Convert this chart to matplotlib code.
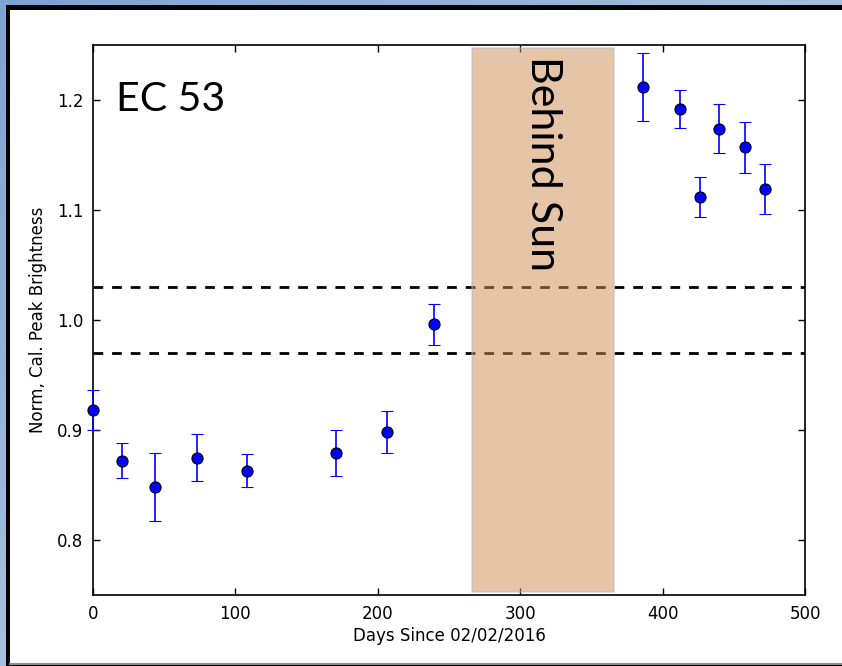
import numpy as np
import matplotlib.pyplot as plt
from matplotlib.patches import Rectangle

# datos
dias = [0, 20.5, 43.5, 73, 108, 170.5, 206.5, 239.5, 386, 412, 426, 439.5, 458, 472]
brillo = [0.918, 0.872, 0.848, 0.875, 0.863, 0.879, 0.898, 0.996,
          1.212, 1.192, 1.112, 1.174, 1.157, 1.119]
error = [0.018, 0.016, 0.031, 0.021, 0.015, 0.021, 0.019, 0.019,
         0.031, 0.017, 0.018, 0.022, 0.023, 0.023]
limites = [1.03, 0.97]
sol_ini, sol_fin = 266, 366

W, H = 842, 666
fig = plt.figure(figsize=(W / 100, H / 100), dpi=100)

# fondo de la diapositiva: degradado azul, marco negro, fondo blanco
bg = fig.add_axes([0, 0, 1, 1])
bg.set_axis_off()
gx = np.linspace(0, 1, 200)
gy = np.linspace(0, 1, 200)
GX, GY = np.meshgrid(gx, gy)
c0 = np.array([0.49, 0.64, 0.83])
c1 = np.array([0.80, 0.86, 0.93])
t = np.clip(0.5 * GX + 0.5 * GY, 0, 1)[..., None]
img = c0 * (1 - t) + c1 * t
bg.imshow(img, extent=[0, W, H, 0], aspect='auto')
bg.set_xlim(0, W)
bg.set_ylim(H, 0)
bg.add_patch(Rectangle((6, 5), W, H, facecolor='black', edgecolor='none'))
bg.add_patch(Rectangle((10, 9.5), W, 654, facecolor='white', edgecolor='none'))
bg.plot([10, W], [664, 664], color='#8c8c8c', lw=1.5)

ax = fig.add_axes([93 / W, 1 - 595 / H, (805 - 93) / W, (595 - 45) / H])

for yv in limites:
    ax.axhline(yv, color='black', lw=2, dashes=(3.5, 3.2), zorder=2)

ax.add_patch(Rectangle((sol_ini, 0.7527), sol_fin - sol_ini, 0.4946,
                       facecolor='#CE8E58', alpha=0.52, edgecolor='#A9BBD0',
                       lw=1.2, zorder=3))

ax.errorbar(dias, brillo, yerr=error, fmt='o', color='blue', ecolor='blue',
            mec='black', mew=0.8, ms=8, capsize=4, elinewidth=1.2,
            capthick=1, zorder=4, clip_on=False)

ax.text(316, 1.24, 'Behind Sun', rotation=-90, ha='center', va='top',
        fontsize=31, family='Lato', zorder=5)
ax.text(0.033, 0.935, 'EC 53', transform=ax.transAxes, ha='left', va='top',
        fontsize=29.5, family='Lato')

ax.set_xlim(0, 500)
ax.set_ylim(0.75, 1.25)
ax.set_xticks([0, 100, 200, 300, 400, 500])
ax.set_yticks([0.8, 0.9, 1.0, 1.1, 1.2])
ax.tick_params(direction='in', top=True, right=True, length=5, width=1,
               labelsize=12, pad=7)
for s in ax.spines.values():
    s.set_linewidth(1.2)
ax.set_xlabel('Days Since 02/02/2016', fontsize=12, labelpad=3)
ax.set_ylabel('Norm, Cal. Peak Brightness', fontsize=12, labelpad=7)

fig.savefig('out.png', dpi=100)
